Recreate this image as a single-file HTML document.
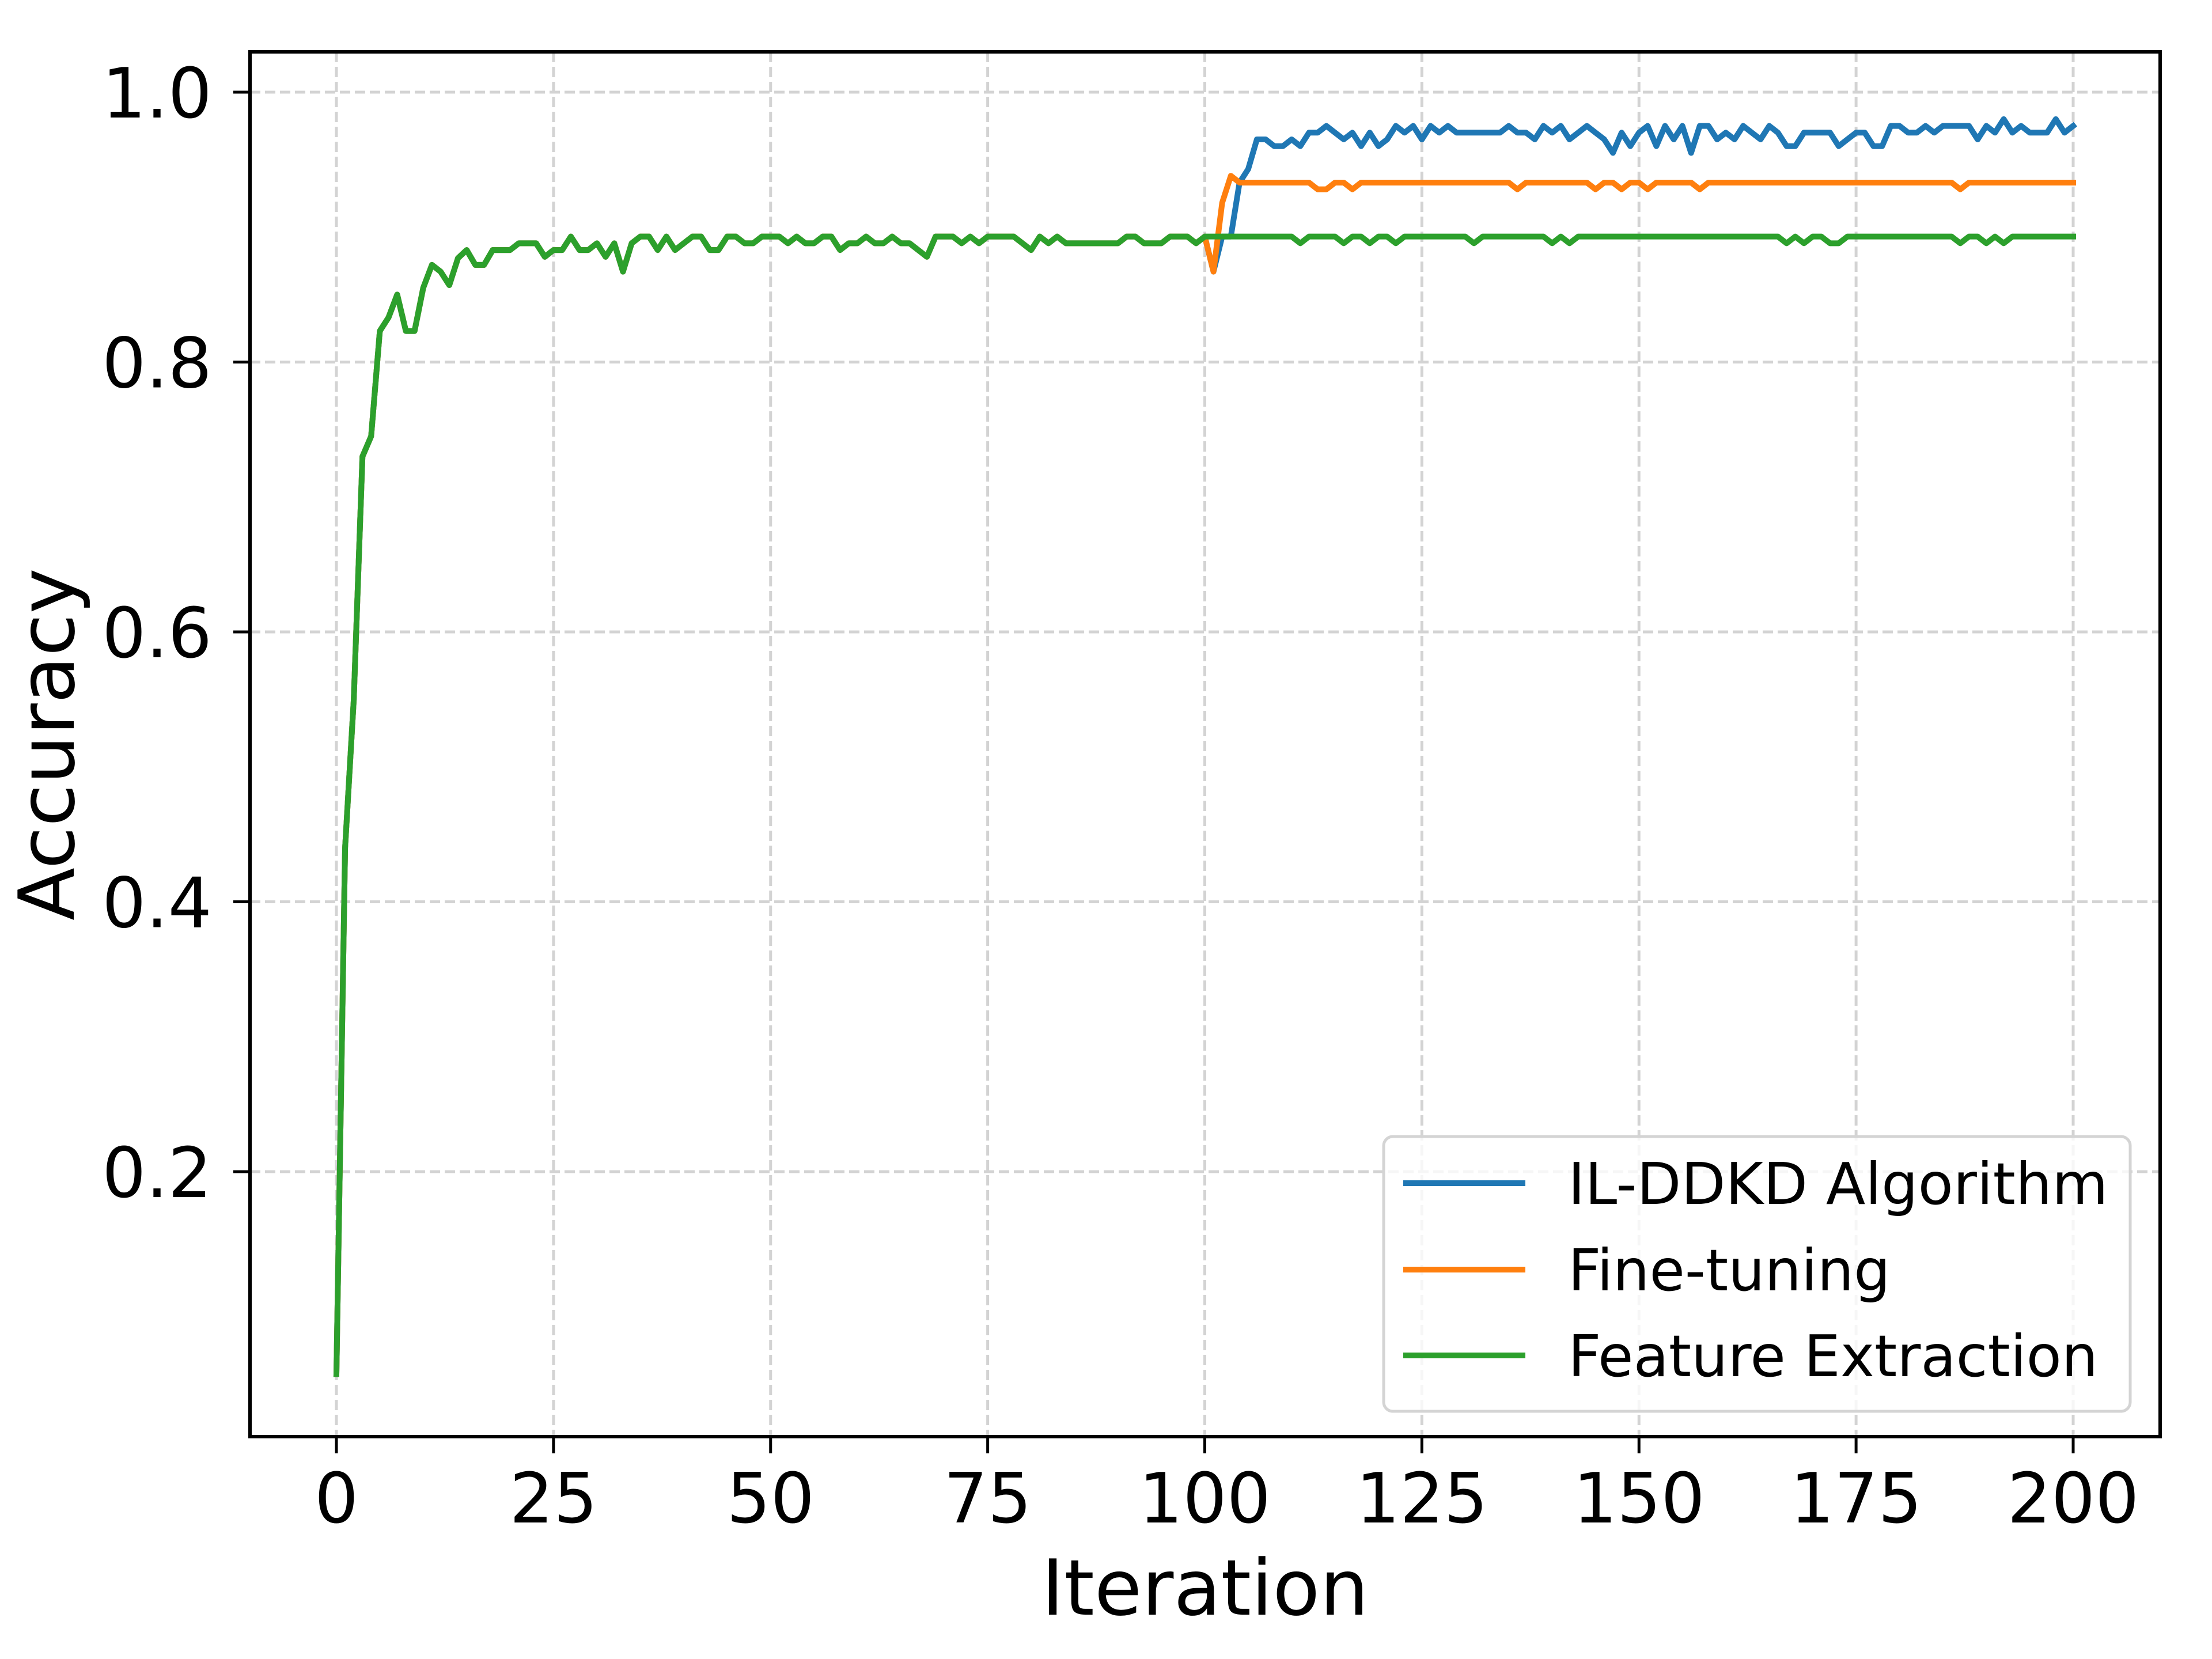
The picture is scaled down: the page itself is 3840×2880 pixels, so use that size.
<!DOCTYPE html>
<html><head><meta charset="utf-8"><style>
html,body{margin:0;padding:0;background:#fff;}
svg{display:block;font-family:"DejaVu Sans","Liberation Sans",sans-serif;}
</style></head><body>
<svg id="chart" width="3840" height="2880" viewBox="0 0 3840 2880" xmlns="http://www.w3.org/2000/svg">
<rect width="3840" height="2880" fill="#fff"/>
<g id="grid"></g>
<g id="series"></g>
<rect x="434" y="90" width="3316" height="2404" fill="none" stroke="#000" stroke-width="6"/>
<g id="ticks"></g>
<text x="2092" y="2803" font-size="134" text-anchor="middle">Iteration</text>
<text transform="translate(128,1292) rotate(-90)" font-size="134" text-anchor="middle">Accuracy</text>
<g>
<rect x="2402" y="1973" width="1296" height="477" rx="16" fill="#fff" fill-opacity="0.8" stroke="#d4d4d4" stroke-width="5"/>
<g><line x1="2436" y1="2054" x2="2648" y2="2054" stroke="#1f77b4" stroke-width="10"/><text x="2722" y="2090" font-size="100">IL-DDKD Algorithm</text></g>
<g><line x1="2436" y1="2204" x2="2648" y2="2204" stroke="#ff7f0e" stroke-width="10"/><text x="2722" y="2240" font-size="100">Fine-tuning</text></g>
<g><line x1="2436" y1="2353" x2="2648" y2="2353" stroke="#2ca02c" stroke-width="10"/><text x="2722" y="2389" font-size="100">Feature Extraction</text></g>
</g>
</svg>
<script>
const xTicks=[0,25,50,75,100,125,150,175,200];
const yTicks=[0.2,0.4,0.6,0.8,1.0];
const yTickLabels=["0.2","0.4","0.6","0.8","1.0"];
const featureExtraction=[0.05,0.44,0.55,0.73,0.745,0.823,0.833,0.85,0.823,0.823,0.855,0.872,0.867,0.857,0.877,0.883,0.872,0.872,0.883,0.883,
0.883,0.888,0.888,0.888,0.878,0.883,0.883,0.893,0.883,0.883,0.888,0.878,0.888,0.867,0.888,0.893,0.893,0.883,0.893,0.883,
0.888,0.893,0.893,0.883,0.883,0.893,0.893,0.888,0.888,0.893,0.893,0.893,0.888,0.893,0.888,0.888,0.893,0.893,0.883,0.888,
0.888,0.893,0.888,0.888,0.893,0.888,0.888,0.883,0.878,0.893,0.893,0.893,0.888,0.893,0.888,0.893,0.893,0.893,0.893,0.888,
0.883,0.893,0.888,0.893,0.888,0.888,0.888,0.888,0.888,0.888,0.888,0.893,0.893,0.888,0.888,0.888,0.893,0.893,0.893,0.888,
0.893,0.893,0.893,0.893,0.893,0.893,0.893,0.893,0.893,0.893,0.893,0.888,0.893,0.893,0.893,0.893,0.888,0.893,0.893,0.888,
0.893,0.893,0.888,0.893,0.893,0.893,0.893,0.893,0.893,0.893,0.893,0.888,0.893,0.893,0.893,0.893,0.893,0.893,0.893,0.893,
0.888,0.893,0.888,0.893,0.893,0.893,0.893,0.893,0.893,0.893,0.893,0.893,0.893,0.893,0.893,0.893,0.893,0.893,0.893,0.893,
0.893,0.893,0.893,0.893,0.893,0.893,0.893,0.888,0.893,0.888,0.893,0.893,0.888,0.888,0.893,0.893,0.893,0.893,0.893,0.893,
0.893,0.893,0.893,0.893,0.893,0.893,0.893,0.888,0.893,0.893,0.888,0.893,0.888,0.893,0.893,0.893,0.893,0.893,0.893,0.893,0.893];
const fineTuningTail=[0.893,0.867,0.918,0.938,0.933,0.933,0.933,0.933,0.933,0.933,0.933,0.933,0.933,0.928,0.928,0.933,0.933,0.928,0.933,0.933,
0.933,0.933,0.933,0.933,0.933,0.933,0.933,0.933,0.933,0.933,0.933,0.933,0.933,0.933,0.933,0.933,0.928,0.933,0.933,0.933,
0.933,0.933,0.933,0.933,0.933,0.928,0.933,0.933,0.928,0.933,0.933,0.928,0.933,0.933,0.933,0.933,0.933,0.928,0.933,0.933,
0.933,0.933,0.933,0.933,0.933,0.933,0.933,0.933,0.933,0.933,0.933,0.933,0.933,0.933,0.933,0.933,0.933,0.933,0.933,0.933,
0.933,0.933,0.933,0.933,0.933,0.933,0.933,0.928,0.933,0.933,0.933,0.933,0.933,0.933,0.933,0.933,0.933,0.933,0.933,0.933,0.933];
const ilddkdTail=[0.893,0.867,0.893,0.893,0.933,0.943,0.965,0.965,0.96,0.96,0.965,0.96,0.97,0.97,0.975,0.97,0.965,0.97,0.96,0.97,
0.96,0.965,0.975,0.97,0.975,0.965,0.975,0.97,0.975,0.97,0.97,0.97,0.97,0.97,0.97,0.975,0.97,0.97,0.965,0.975,
0.97,0.975,0.965,0.97,0.975,0.97,0.965,0.955,0.97,0.96,0.97,0.975,0.96,0.975,0.965,0.975,0.955,0.975,0.975,0.965,
0.97,0.965,0.975,0.97,0.965,0.975,0.97,0.96,0.96,0.97,0.97,0.97,0.97,0.96,0.965,0.97,0.97,0.96,0.96,0.975,
0.975,0.97,0.97,0.975,0.97,0.975,0.975,0.975,0.975,0.965,0.975,0.97,0.98,0.97,0.975,0.97,0.97,0.97,0.98,0.97,0.975];
const fineTuning=featureExtraction.slice(0,100).concat(fineTuningTail);
const ilddkd=featureExtraction.slice(0,100).concat(ilddkdTail);

const NS="http://www.w3.org/2000/svg";
const X=v=>584+(3599-584)*v/200;
const Y=v=>2502.5-2342.5*v;
function mk(tag,attrs,parent){const e=document.createElementNS(NS,tag);for(const k in attrs)e.setAttribute(k,attrs[k]);parent.appendChild(e);return e;}
const grid=document.getElementById('grid'),ticks=document.getElementById('ticks'),series=document.getElementById('series');
xTicks.forEach(t=>{
  const g=mk('line',{x1:X(t),x2:X(t),y1:90,y2:2494,stroke:'#d3d3d3','stroke-width':5,'stroke-dasharray':'18 8'},grid);
  
  
  const tk=mk('line',{x1:X(t),x2:X(t),y1:2494,y2:2523,stroke:'#000','stroke-width':5},ticks);
  
  
  const tx=mk('text',{x:X(t),y:2643,'font-size':120,'text-anchor':'middle'},ticks);
  tx.textContent=String(t);
  
  
});
yTicks.forEach((t,i)=>{
  const g=mk('line',{x1:434,x2:3750,y1:Y(t),y2:Y(t),stroke:'#d3d3d3','stroke-width':5,'stroke-dasharray':'18 8'},grid);
  
  
  const tk=mk('line',{x1:405,x2:434,y1:Y(t),y2:Y(t),stroke:'#000','stroke-width':5},ticks);
  
  
  const tx=mk('text',{x:368,y:Y(t)+44,'font-size':120,'text-anchor':'end'},ticks);
  tx.textContent=yTickLabels[i];
  
  
});
function line(data,color,name){
  const p=mk('polyline',{points:data.map((v,i)=>X(i)+','+Y(v)).join(' '),fill:'none',stroke:color,'stroke-width':10,'stroke-linejoin':'round','stroke-linecap':'square'},series);
  
  
}
line(ilddkd,'#1f77b4','il-ddkd-line');
line(fineTuning,'#ff7f0e','fine-tuning-line');
line(featureExtraction,'#2ca02c','feature-extraction-line');
</script>
</body></html>
